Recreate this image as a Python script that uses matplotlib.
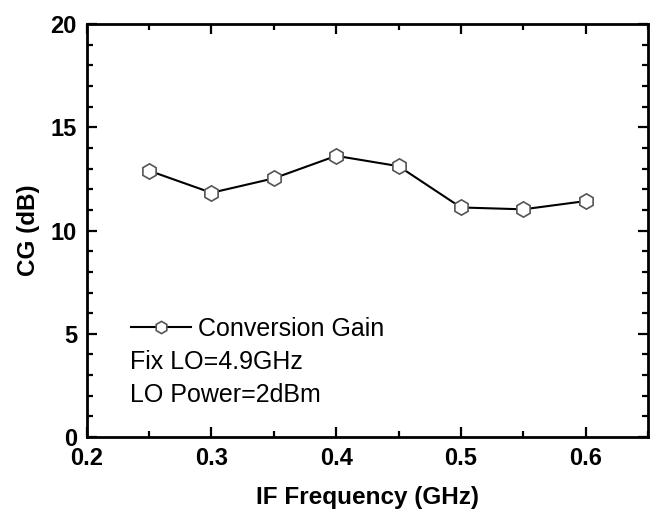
import matplotlib
matplotlib.use('Agg')
import matplotlib.pyplot as plt
from matplotlib.ticker import MultipleLocator

# dados
freq = [0.25, 0.30, 0.35, 0.40, 0.45, 0.50, 0.55, 0.60]
ganho = [12.9, 11.83, 12.53, 13.62, 13.12, 11.12, 11.03, 11.43]
serie = 'Conversion Gain'
notas = ['Fix LO=4.9GHz', 'LO Power=2dBm']

plt.rcParams['font.family'] = ['Liberation Sans', 'DejaVu Sans']

fig = plt.figure(figsize=(6.52, 5.13), dpi=100)
ax = fig.add_axes([0.133, 0.148, 0.861, 0.805])

ax.plot(freq, ganho, color='black', linewidth=1.5, marker='h', markersize=11,
        markerfacecolor='white', markeredgecolor='#555555', markeredgewidth=1.2,
        label=serie)

ax.set_xlim(0.2, 0.65)
ax.set_ylim(0, 20)
ax.xaxis.set_minor_locator(MultipleLocator(0.05))
ax.yaxis.set_major_locator(MultipleLocator(5))
ax.yaxis.set_minor_locator(MultipleLocator(1))
ax.set_xticks([0.2, 0.3, 0.4, 0.5, 0.6])
ax.set_xticklabels(['0.2', '0.3', '0.4', '0.5', '0.6'])

ax.tick_params(which='both', direction='in', top=True, right=True, width=1.6)
ax.tick_params(which='major', length=7, labelsize=17)
ax.tick_params(axis='x', which='major', pad=7)
ax.tick_params(axis='y', which='major', pad=7)
ax.tick_params(which='minor', length=4)
for lab in ax.get_xticklabels() + ax.get_yticklabels():
    lab.set_fontweight('bold')
for s in ax.spines.values():
    s.set_linewidth(2)

ax.set_xlabel('IF Frequency (GHz)', fontsize=17.5, fontweight='bold', labelpad=12)
ax.set_ylabel('CG (dB)', fontsize=17.5, fontweight='bold', labelpad=8)

leg = ax.legend(loc='center left', bbox_to_anchor=(0.078, 0.262), frameon=False,
                fontsize=18, handlelength=2.4, handletextpad=0.28,
                borderaxespad=0, borderpad=0, markerscale=0.8)
ax.text(0.077, 0.183, notas[0], transform=ax.transAxes, fontsize=18, va='center')
ax.text(0.077, 0.102, notas[1], transform=ax.transAxes, fontsize=18, va='center')

fig.savefig('out.png', dpi=100)
